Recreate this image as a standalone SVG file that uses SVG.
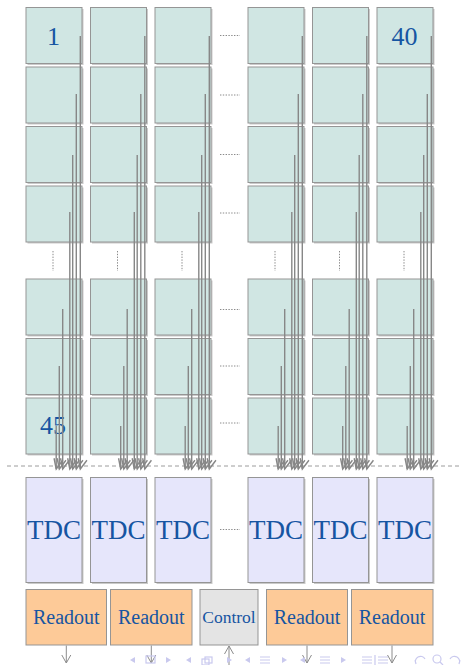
<svg xmlns="http://www.w3.org/2000/svg" width="462" height="665" viewBox="0 0 462 665">
  <style>
    .cell { fill: #d0e6e3; stroke: #959595; stroke-width: 1; }
    .tdc { fill: #e6e6fb; stroke: #959595; stroke-width: 1; }
    .ro { fill: #fdca98; stroke: #959595; stroke-width: 1; }
    .ctl { fill: #e4e4e4; stroke: #959595; stroke-width: 1; }
    .shadow { fill: #cacaca; }
    .lbl { font-family: "Liberation Serif", "Times New Roman", serif; fill: #1655a2; text-anchor: middle; }
    .wire { stroke: #878787; stroke-width: 1.4; fill: none; marker-end: url(#vhead); }
    .dots { stroke: #8a8a8a; stroke-width: 1; stroke-dasharray: 1.4 1.4; fill: none; }
    .io { stroke: #8c8c8c; stroke-width: 1; fill: none; }
    .nav { fill: #c9c9ee; stroke: none; }
    .navs { fill: none; stroke: #c9c9ee; stroke-width: 1.2; }
  </style>
  <defs>
    <!-- open arrowhead of the signal wires, leaning slightly to the left -->
    <marker id="vhead" markerWidth="16" markerHeight="16" refX="11" refY="8" orient="103" markerUnits="userSpaceOnUse">
      <path d="M1,3.5 L11,8 L1,12.5" fill="none" stroke="#878787" stroke-width="1.4"/>
    </marker>
    <marker id="down" markerWidth="12" markerHeight="12" refX="6" refY="9" orient="0" markerUnits="userSpaceOnUse">
      <path d="M1.5,1 L6,9 L10.5,1" fill="none" stroke="#8c8c8c" stroke-width="1"/>
    </marker>
    <marker id="up" markerWidth="12" markerHeight="12" refX="6" refY="1" orient="0" markerUnits="userSpaceOnUse">
      <path d="M1.5,9 L6,1 L10.5,9" fill="none" stroke="#8c8c8c" stroke-width="1"/>
    </marker>
    <!-- seven signal wires of one pixel column, relative to the column's left edge -->
    <g id="bundle">
      <path class="wire" d="M54.3,36 V469"/>
      <path class="wire" d="M50.3,94 V469"/>
      <path class="wire" d="M46.7,155 V469"/>
      <path class="wire" d="M43.8,212 V469"/>
      <path class="wire" d="M36.7,309 V469"/>
      <path class="wire" d="M33.3,366 V469"/>
      <path class="wire" d="M30.2,426 V469"/>
    </g>
    <g id="cellcol">
      <rect class="shadow" x="1.5" y="9" width="56" height="56"/>
      <rect class="shadow" x="1.5" y="68.5" width="56" height="56"/>
      <rect class="shadow" x="1.5" y="128" width="56" height="56"/>
      <rect class="shadow" x="1.5" y="187.5" width="56" height="56"/>
      <rect class="shadow" x="1.5" y="280.5" width="56" height="56"/>
      <rect class="shadow" x="1.5" y="340" width="56" height="56"/>
      <rect class="shadow" x="1.5" y="399.5" width="56" height="56"/>
    </g>
  </defs>

  <!-- drop shadows of the pixel cells -->
  <g id="shadows">
    <use href="#cellcol" x="26"/>
    <use href="#cellcol" x="90.5"/>
    <use href="#cellcol" x="155"/>
    <use href="#cellcol" x="248"/>
    <use href="#cellcol" x="312.5"/>
    <use href="#cellcol" x="377"/>
  </g>

  <!-- pixel matrix: 6 visible columns x 7 visible rows -->
  <g id="col1">
    <g id="p1-1"><rect class="cell" x="26" y="7.5" width="56" height="56"/><text class="lbl" x="53.5" y="45" font-size="26">1</text></g>
    <g id="p1-2"><rect class="cell" x="26" y="67" width="56" height="56"/></g>
    <g id="p1-3"><rect class="cell" x="26" y="126.5" width="56" height="56"/></g>
    <g id="p1-4"><rect class="cell" x="26" y="186" width="56" height="56"/></g>
    <g id="p1-a"><rect class="cell" x="26" y="279" width="56" height="56"/></g>
    <g id="p1-b"><rect class="cell" x="26" y="338.5" width="56" height="56"/></g>
    <g id="p1-45"><rect class="cell" x="26" y="398" width="56" height="56"/><text class="lbl" x="53" y="434" font-size="26">45</text></g>
  </g>
  <g id="col2">
    <g id="p2-1"><rect class="cell" x="90.5" y="7.5" width="56" height="56"/></g>
    <g id="p2-2"><rect class="cell" x="90.5" y="67" width="56" height="56"/></g>
    <g id="p2-3"><rect class="cell" x="90.5" y="126.5" width="56" height="56"/></g>
    <g id="p2-4"><rect class="cell" x="90.5" y="186" width="56" height="56"/></g>
    <g id="p2-a"><rect class="cell" x="90.5" y="279" width="56" height="56"/></g>
    <g id="p2-b"><rect class="cell" x="90.5" y="338.5" width="56" height="56"/></g>
    <g id="p2-c"><rect class="cell" x="90.5" y="398" width="56" height="56"/></g>
  </g>
  <g id="col3">
    <g id="p3-1"><rect class="cell" x="155" y="7.5" width="56" height="56"/></g>
    <g id="p3-2"><rect class="cell" x="155" y="67" width="56" height="56"/></g>
    <g id="p3-3"><rect class="cell" x="155" y="126.5" width="56" height="56"/></g>
    <g id="p3-4"><rect class="cell" x="155" y="186" width="56" height="56"/></g>
    <g id="p3-a"><rect class="cell" x="155" y="279" width="56" height="56"/></g>
    <g id="p3-b"><rect class="cell" x="155" y="338.5" width="56" height="56"/></g>
    <g id="p3-c"><rect class="cell" x="155" y="398" width="56" height="56"/></g>
  </g>
  <g id="col4">
    <g id="p4-1"><rect class="cell" x="248" y="7.5" width="56" height="56"/></g>
    <g id="p4-2"><rect class="cell" x="248" y="67" width="56" height="56"/></g>
    <g id="p4-3"><rect class="cell" x="248" y="126.5" width="56" height="56"/></g>
    <g id="p4-4"><rect class="cell" x="248" y="186" width="56" height="56"/></g>
    <g id="p4-a"><rect class="cell" x="248" y="279" width="56" height="56"/></g>
    <g id="p4-b"><rect class="cell" x="248" y="338.5" width="56" height="56"/></g>
    <g id="p4-c"><rect class="cell" x="248" y="398" width="56" height="56"/></g>
  </g>
  <g id="col5">
    <g id="p5-1"><rect class="cell" x="312.5" y="7.5" width="56" height="56"/></g>
    <g id="p5-2"><rect class="cell" x="312.5" y="67" width="56" height="56"/></g>
    <g id="p5-3"><rect class="cell" x="312.5" y="126.5" width="56" height="56"/></g>
    <g id="p5-4"><rect class="cell" x="312.5" y="186" width="56" height="56"/></g>
    <g id="p5-a"><rect class="cell" x="312.5" y="279" width="56" height="56"/></g>
    <g id="p5-b"><rect class="cell" x="312.5" y="338.5" width="56" height="56"/></g>
    <g id="p5-c"><rect class="cell" x="312.5" y="398" width="56" height="56"/></g>
  </g>
  <g id="col40">
    <g id="p40-1"><rect class="cell" x="377" y="7.5" width="56" height="56"/><text class="lbl" x="404.5" y="45" font-size="26">40</text></g>
    <g id="p40-2"><rect class="cell" x="377" y="67" width="56" height="56"/></g>
    <g id="p40-3"><rect class="cell" x="377" y="126.5" width="56" height="56"/></g>
    <g id="p40-4"><rect class="cell" x="377" y="186" width="56" height="56"/></g>
    <g id="p40-a"><rect class="cell" x="377" y="279" width="56" height="56"/></g>
    <g id="p40-b"><rect class="cell" x="377" y="338.5" width="56" height="56"/></g>
    <g id="p40-c"><rect class="cell" x="377" y="398" width="56" height="56"/></g>
  </g>

  <!-- ellipsis marks for the omitted rows and columns -->
  <g id="ellipses">
    <path class="dots" d="M220,35.5 H240 M220,95 H240 M220,154.5 H240 M220,213 H240 M220,309.5 H240 M220,366 H240 M220,423 H240 M220,529.5 H240"/>
    <path class="dots" d="M53,251 V271 M117.5,251 V271 M182,251 V271 M275,251 V271 M339.5,251 V271 M404,251 V271"/>
  </g>

  <!-- boundary between pixel matrix and TDC stage -->
  <path d="M7,466 H460" stroke="#9c9c9c" stroke-width="1" stroke-dasharray="4 3" fill="none"/>

  <g id="connectors">
    <use href="#bundle" x="26"/>
    <use href="#bundle" x="90.5"/>
    <use href="#bundle" x="155"/>
    <use href="#bundle" x="248"/>
    <use href="#bundle" x="312.5"/>
    <use href="#bundle" x="377"/>
    <path class="io" d="M66.3,645.5 V663" marker-end="url(#down)"/>
    <path class="io" d="M151.3,645.5 V663" marker-end="url(#down)"/>
    <path class="io" d="M229,665 V646" marker-end="url(#up)"/>
    <path class="io" d="M307,645.5 V663" marker-end="url(#down)"/>
    <path class="io" d="M392,645.5 V663" marker-end="url(#down)"/>
  </g>

  <!-- TDC stage -->
  <g id="tdc1"><rect class="shadow" x="27.5" y="479" width="56" height="105"/><rect class="tdc" x="26" y="477.5" width="56" height="105"/><text class="lbl" x="54" y="539" font-size="27">TDC</text></g>
  <g id="tdc2"><rect class="shadow" x="92" y="479" width="56" height="105"/><rect class="tdc" x="90.5" y="477.5" width="56" height="105"/><text class="lbl" x="118.5" y="539" font-size="27">TDC</text></g>
  <g id="tdc3"><rect class="shadow" x="156.5" y="479" width="56" height="105"/><rect class="tdc" x="155" y="477.5" width="56" height="105"/><text class="lbl" x="183" y="539" font-size="27">TDC</text></g>
  <g id="tdc4"><rect class="shadow" x="249.5" y="479" width="56" height="105"/><rect class="tdc" x="248" y="477.5" width="56" height="105"/><text class="lbl" x="276" y="539" font-size="27">TDC</text></g>
  <g id="tdc5"><rect class="shadow" x="314" y="479" width="56" height="105"/><rect class="tdc" x="312.5" y="477.5" width="56" height="105"/><text class="lbl" x="340.5" y="539" font-size="27">TDC</text></g>
  <g id="tdc40"><rect class="shadow" x="378.5" y="479" width="56" height="105"/><rect class="tdc" x="377" y="477.5" width="56" height="105"/><text class="lbl" x="405" y="539" font-size="27">TDC</text></g>

  <!-- readout and control -->
  <g id="readout1"><rect class="ro" x="26" y="589.5" width="80.5" height="55.5"/><text class="lbl" x="66.3" y="624" font-size="20">Readout</text></g>
  <g id="readout2"><rect class="ro" x="110.5" y="589.5" width="81.5" height="55.5"/><text class="lbl" x="151.3" y="624" font-size="20">Readout</text></g>
  <g id="control"><rect class="ctl" x="200" y="589.5" width="58" height="55.5"/><text class="lbl" x="229" y="622.5" font-size="17.5">Control</text></g>
  <g id="readout3"><rect class="ro" x="266.5" y="589.5" width="81" height="55.5"/><text class="lbl" x="307" y="624" font-size="20">Readout</text></g>
  <g id="readout4"><rect class="ro" x="351.5" y="589.5" width="81.5" height="55.5"/><text class="lbl" x="392" y="624" font-size="20">Readout</text></g>

  <!-- slide navigation bar -->
  <g id="navbar">
    <path class="nav" d="M130,660 L135,657 L135,663 Z"/>
    <rect class="navs" x="146" y="656" width="9" height="7"/>
    <path class="nav" d="M171,660 L166,657 L166,663 Z"/>
    <path class="nav" d="M186,660 L191,657 L191,663 Z"/>
    <rect class="navs" x="205" y="657" width="7" height="6"/>
    <rect class="navs" x="202" y="659" width="7" height="6"/>
    <path class="nav" d="M232,660 L227,657 L227,663 Z"/>
    <path class="nav" d="M245,660 L250,657 L250,663 Z"/>
    <path class="navs" d="M260,657 H270 M260,660 H270 M260,663 H270"/>
    <path class="nav" d="M287,660 L282,657 L282,663 Z"/>
    <path class="nav" d="M300,660 L305,657 L305,663 Z"/>
    <path class="navs" d="M320,657 H330 M320,660 H330 M320,663 H330"/>
    <path class="nav" d="M346,660 L341,657 L341,663 Z"/>
    <path class="navs" d="M362,657 H372 M362,660 H372 M362,663 H372 M375,655 V665 M378,657 H388 M378,660 H388 M378,663 H388"/>
    <path class="navs" d="M416,664 A5,5 0 1 1 425,659 M416,664 L415,660"/>
    <circle class="navs" cx="437" cy="659" r="4"/>
    <path class="navs" d="M440,662 L443,665"/>
    <path class="navs" d="M459,664 A5,5 0 1 0 450,659 M459,664 L460,660"/>
  </g>
</svg>
